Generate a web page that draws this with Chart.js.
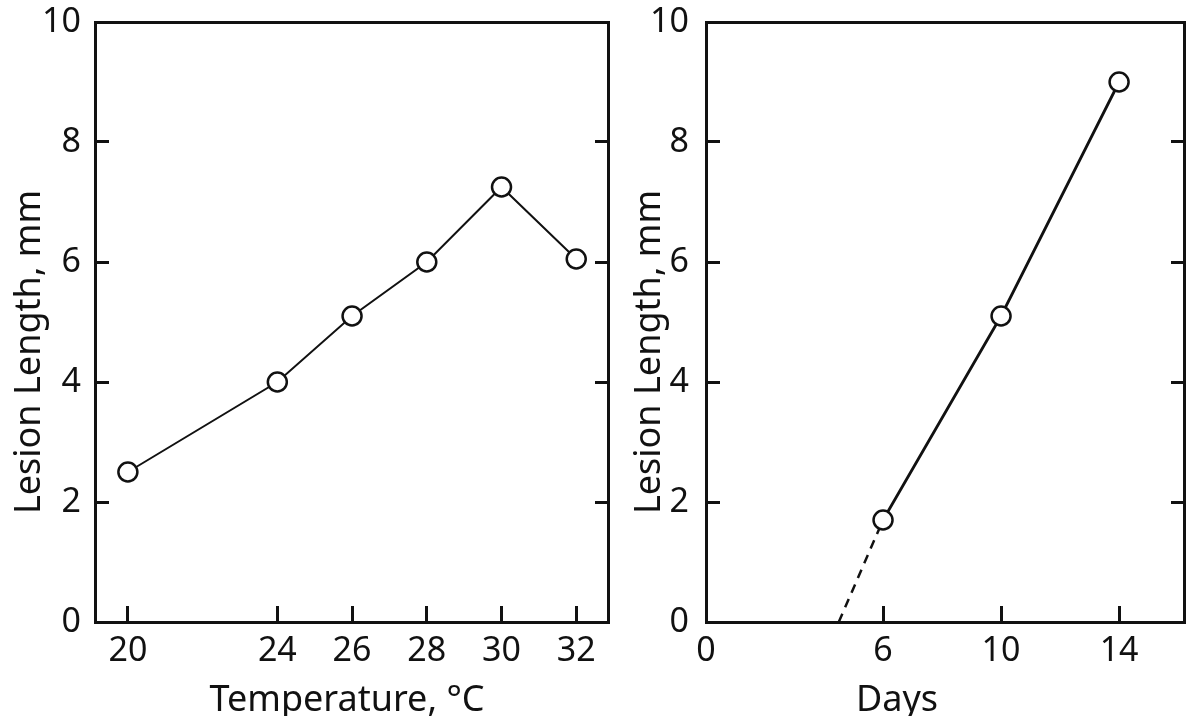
<!DOCTYPE html>
<html>
<head>
<meta charset="utf-8">
<script src="https://cdn.jsdelivr.net/npm/chart.js@4.4.1/dist/chart.umd.min.js"></script>
<style>
    html, body { margin: 0; padding: 0; background: #fff; }
    #wrap { position: relative; width: 1196px; height: 716px; }
    #wrap canvas { position: absolute; left: 0; top: 0; }
</style>
</head>
<body>
<div id="wrap">
    <canvas id="temp-chart" width="1196" height="716"></canvas>
    <canvas id="days-chart" width="1196" height="716"></canvas>
</div>
<script>
// --- values ---
const lesionTicks = [0, 2, 4, 6, 8, 10];

// left panel: lesion length vs temperature
const tempTicks  = [20, 24, 26, 28, 30, 32];
const tempValues = [20, 24, 26, 28, 30, 32];
const tempLesion = [2.5, 4.0, 5.1, 6.0, 7.25, 6.05];

// right panel: lesion length vs days
const dayTicks   = [0, 6, 10, 14];
const dayValues  = [6, 10, 14];
const dayLesion  = [1.7, 5.1, 9.0];
// dashed extrapolation back to zero length
const extrapDays   = [4.5, 6];
const extrapLesion = [0, 1.7];

const W = 1196, H = 716;
const ink = '#111';
const family = "'Noto Sans', 'DejaVu Sans', sans-serif";
const tickFont  = { family, size: 34 };
const titleSize = 36;

const toPoints = (xs, ys) => xs.map((x, i) => ({ x, y: ys[i] }));
const useTicks = values => scale => { scale.ticks = values.map(v => ({ value: v })); };
// fix axis box sizes and drop the label overhang padding so the plot box lands where the original has it
const fixWidth = w => scale => {
    scale.width = w;
    scale.paddingTop = scale.paddingBottom = 0;
};
const fixHeight = h => scale => {
    scale.height = h;
    scale.paddingLeft = scale.paddingRight = 0;
};

// axis titles drawn by hand so they can sit off-centre like the original
const axisTitles = {
    id: 'axisTitles',
    afterDraw(chart, args, opts) {
        const ctx = chart.ctx;
        (opts.items || []).forEach(t => {
            ctx.save();
            ctx.translate(t.x, t.y);
            if (t.rotate) ctx.rotate(-Math.PI / 2);
            ctx.font = `${titleSize}px ${family}`;
            ctx.fillStyle = ink;
            ctx.textAlign = 'center';
            ctx.textBaseline = 'alphabetic';
            ctx.fillText(t.text, 0, 0);
            ctx.restore();
        });
    }
};

function buildPanel(canvasId, p) {
    const a = p.area;
    const border = { display: true, color: ink, width: 3 };
    return new Chart(document.getElementById(canvasId), {
        type: 'line',
        data: { datasets: p.datasets },
        options: {
            responsive: false,
            animation: false,
            layout: { padding: 0 },
            plugins: {
                legend: { display: false },
                tooltip: { enabled: false },
                axisTitles: { items: p.titles }
            },
            scales: {
                x: {
                    type: 'linear', position: 'bottom', min: p.xMin, max: p.xMax,
                    afterBuildTicks: useTicks(p.xTicks),
                    afterFit: fixHeight(H - a.bottom),
                    border,
                    grid: { drawOnChartArea: false, drawTicks: true, tickLength: -16, tickWidth: 3, tickColor: ink },
                    ticks: { color: ink, font: tickFont, padding: 25, maxRotation: 0, autoSkip: false }
                },
                xTop: {
                    type: 'linear', position: 'top', min: p.xMin, max: p.xMax,
                    afterFit: fixHeight(a.top),
                    border,
                    grid: { display: false },
                    ticks: { display: false }
                },
                y: {
                    type: 'linear', position: 'left', min: 0, max: 10,
                    afterBuildTicks: useTicks(lesionTicks),
                    afterFit: fixWidth(a.left),
                    border,
                    grid: { drawOnChartArea: false, drawTicks: true, tickLength: -14, tickWidth: 3, tickColor: ink },
                    ticks: { color: ink, font: tickFont, padding: p.yPad, autoSkip: false }
                },
                yRight: {
                    type: 'linear', position: 'right', min: 0, max: 10,
                    afterBuildTicks: useTicks(lesionTicks),
                    afterFit: fixWidth(W - a.right),
                    border,
                    grid: { drawOnChartArea: false, drawTicks: true, tickLength: -13, tickWidth: 3, tickColor: ink },
                    ticks: { display: false }
                }
            }
        },
        plugins: [axisTitles]
    });
}

const pointStyle = {
    pointRadius: 9.5,
    pointHoverRadius: 9.5,
    pointBorderWidth: 2.5,
    pointBorderColor: ink,
    pointBackgroundColor: '#fff'
};

buildPanel('temp-chart', {
    area: { left: 95, right: 608, top: 22, bottom: 622 },
    xMin: 19.12, xMax: 32.85,
    xTicks: tempTicks,
    yPad: 28,
    datasets: [{
        data: toPoints(tempValues, tempLesion),
        borderColor: ink,
        borderWidth: 2,
        tension: 0,
        clip: false,
        ...pointStyle
    }],
    titles: [
        { text: 'Temperature, °C', x: 347, y: 711 },
        { text: 'Lesion Length, mm', x: 40, y: 352, rotate: true }
    ]
});

buildPanel('days-chart', {
    area: { left: 706, right: 1189, top: 22, bottom: 622 },
    xMin: 0, xMax: 16.2,
    xTicks: dayTicks,
    yPad: 31,
    datasets: [
        {
            data: toPoints(dayValues, dayLesion),
            borderColor: ink,
            borderWidth: 2.8,
            tension: 0,
            clip: false,
            order: 0,
            ...pointStyle
        },
        {
            data: toPoints(extrapDays, extrapLesion),
            borderColor: ink,
            borderWidth: 2.5,
            borderDash: [9, 7],
            pointRadius: 0,
            tension: 0,
            order: 1
        }
    ],
    titles: [
        { text: 'Days', x: 897, y: 711 },
        { text: 'Lesion Length, mm', x: 660, y: 352, rotate: true }
    ]
});
</script>
</body>
</html>
